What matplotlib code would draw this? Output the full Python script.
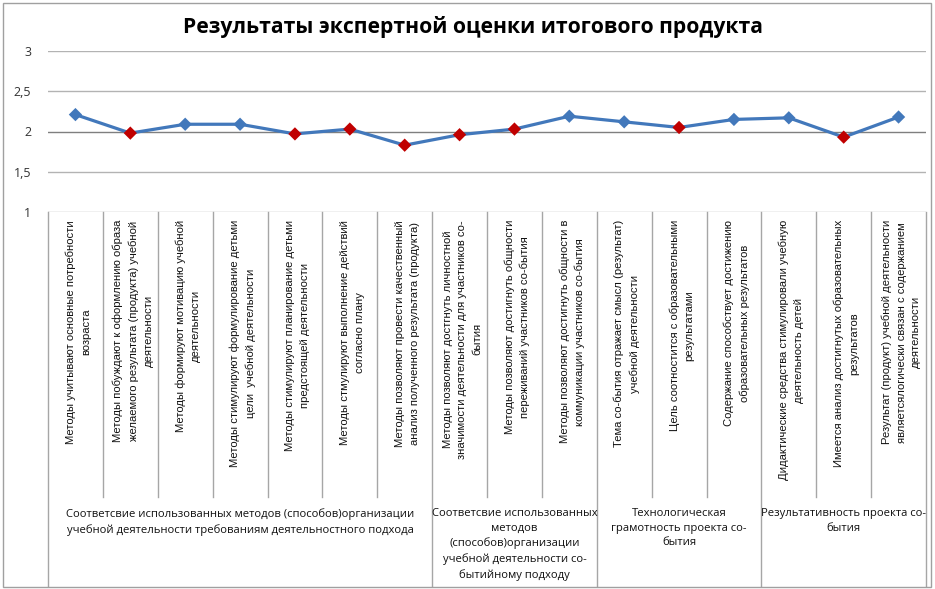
import numpy as np
import matplotlib
matplotlib.use("Agg")
import matplotlib.pyplot as plt
from matplotlib.patches import Rectangle
import matplotlib.transforms as mtransforms

# data
title = "Результаты экспертной оценки итогового продукта"

categories = [
    "Методы учитывают основные потребности\nвозраста",
    "Методы побуждают к оформлению образа\nжелаемого результата (продукта) учебной\nдеятельности",
    "Методы формируют мотивацию учебной\nдеятельности",
    "Методы стимулируют формулирование детьми\nцели  учебной деятельности",
    "Методы стимулируют планирование детьми\nпредстоящей деятельноcти",
    "Методы стмулируют выполнение действий\nсогласно плану",
    "Методы позволяют провести качественный\nанализ полученного результата (продукта)",
    "Методы позволяют достгнуть личностной\nзначимости деятельноcти для участников со-\nбытия",
    "Методы позволяют достигнуть общности\nпереживаний участников со-бытия",
    "Методы позволяют достигнуть общности в\nкоммуникации участников со-бытия",
    "Тема со-бытия отражает смысл (результат)\nучебной деятельности",
    "Цель соотностится с образовательными\nрезультатами",
    "Содержание способствует достижению\nобразовательных результатов",
    "Дидактические средства стимулировали учебную\nдеятельность детей",
    "Имеется анализ достигнутых образовательных\nрезультатов",
    "Результат (продукт) учебной деятельности\nявляетсялогически связан с содержанием\nдеятельности",
]

values = [2.21, 1.98, 2.09, 2.09, 1.97, 2.03, 1.83, 1.96,
          2.03, 2.19, 2.12, 2.05, 2.15, 2.17, 1.93, 2.18]

# points drawn with red markers
red_points = [1, 4, 5, 6, 7, 8, 11, 14]

groups = [
    "Соответсвие использованных методов (способов)организации\nучебной деятельности требованиям деятельностного подхода",
    "Соответсвие использованных\nметодов\n(способов)организации\nучебной деятельности со-\nбытийному подходу",
    "Технологическая\nграмотность проекта со-\nбытия",
    "Результативность проекта со-\nбытия",
]
group_sizes = [7, 3, 3, 3]

yticks = [1, 1.5, 2, 2.5, 3]
ytick_labels = ["1", "1,5", "2", "2,5", "3"]

blue = "#4278bb"
red = "#c00000"
grid_c = "#b3b3b3"
table_c = "#a6a6a6"

W, H = 935, 589
fig = plt.figure(figsize=(W / 100, H / 100), dpi=100)

# chart border
fig.patches.append(Rectangle((3 / W, 2 / H), 928 / W, 584 / H, transform=fig.transFigure,
                             fill=False, edgecolor="#a0a0a0", linewidth=1))

ax = fig.add_axes([48 / W, (H - 212) / H, 878 / W, 161 / H])
n = len(values)
x = np.arange(n)

ax.set_xlim(-0.5, n - 0.5)
ax.set_ylim(1, 3)
for s in ax.spines.values():
    s.set_visible(False)
ax.set_xticks([])
ax.set_yticks(yticks)
ax.set_yticklabels(ytick_labels, fontsize=9, family="Open Sans", color="#333333")
ax.tick_params(axis="y", length=0, pad=12)

for yv in yticks:
    c = "#7f7f7f" if yv == 2 else grid_c
    ax.axhline(yv, color=c, linewidth=1, zorder=1)

ax.plot(x, values, color=blue, linewidth=2.3, zorder=3)
cols = [red if i in red_points else blue for i in range(n)]
ax.scatter(x, values, marker="D", s=46, c=cols, zorder=4, linewidths=0)

# category table below the axis
trans = mtransforms.blended_transform_factory(ax.transData, ax.transAxes)
y_top = 0.0
y_inner = (212 - 497) / 161
y_bot = (212 - 586) / 161

bounds = np.cumsum([0] + group_sizes) - 0.5
for b in np.arange(n + 1) - 0.5:
    full = b in bounds
    ax.plot([b, b], [y_top, y_bot if full else y_inner], color=table_c,
            linewidth=1, transform=trans, clip_on=False)

# separate axes for the rotated labels so that long ones get cut like in Excel
lab_ax = fig.add_axes([48 / W, (H - 491) / H, 878 / W, 279 / H])
lab_ax.set_xlim(-0.5, n - 0.5)
lab_ax.set_ylim(0, 1)
lab_ax.axis("off")
for i, lab in enumerate(categories):
    lab_ax.text(i + 0.05, 1 - 8 / 279, lab, rotation=90, rotation_mode="anchor",
                ha="right", va="center", multialignment="center",
                fontsize=8.1, family="Liberation Sans", color="#111111",
                linespacing=1.6, clip_on=True)

for g, lab in enumerate(groups):
    cx = (bounds[g] + bounds[g + 1]) / 2
    ax.text(cx, (212 - 508) / 161, lab, transform=trans, ha="center", va="top",
            multialignment="center", fontsize=8.15, family="Open Sans",
            color="#111111", linespacing=1.45, clip_on=False)

fig.text(473 / W, 1 - 27 / H, title, ha="center", va="center",
         fontsize=15.2, fontweight="bold", family="Open Sans")

fig.savefig("out.png", dpi=100)
